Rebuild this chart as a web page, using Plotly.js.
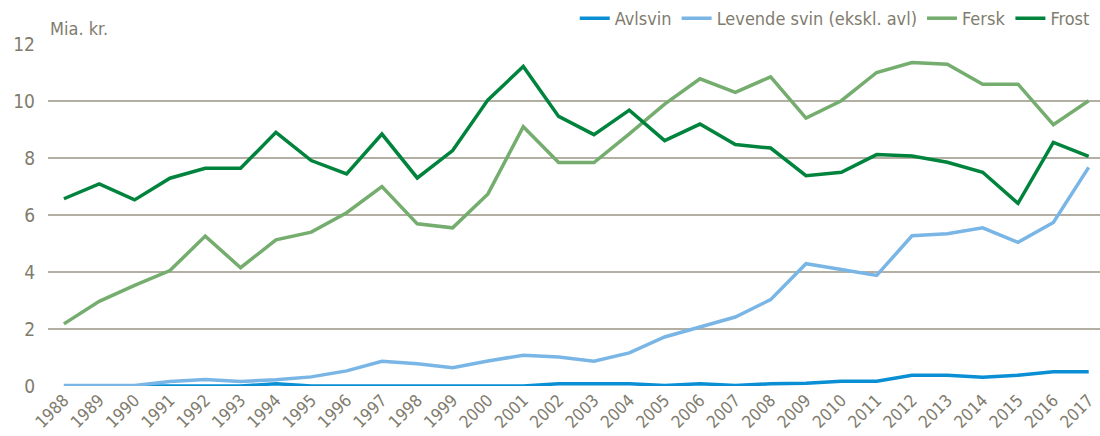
<!DOCTYPE html>
<html>
<head>
<meta charset="utf-8">
<script src="https://cdn.plot.ly/plotly-3.0.1.min.js"></script>
<style>html,body{margin:0;padding:0;background:#fff}#chart{width:1100px;height:436px}</style>
</head>
<body>
<div id="chart"></div>
<script>
const years = [1988,1989,1990,1991,1992,1993,1994,1995,1996,1997,1998,1999,2000,2001,2002,2003,2004,2005,2006,2007,2008,2009,2010,2011,2012,2013,2014,2015,2016,2017];
const avlsvin = [0,0,0,0,0,0,0.08,0,0,0,0,0,0,0,0.08,0.08,0.08,0.02,0.08,0.02,0.08,0.1,0.17,0.17,0.38,0.38,0.31,0.38,0.5,0.5];
const levendeSvin = [0.02,0.02,0.02,0.16,0.23,0.16,0.22,0.32,0.53,0.87,0.78,0.64,0.88,1.08,1.02,0.87,1.16,1.72,2.07,2.42,3.03,4.29,4.09,3.88,5.27,5.34,5.55,5.04,5.74,7.67];
const fersk = [2.18,2.97,3.53,4.05,5.26,4.15,5.13,5.40,6.08,7.0,5.69,5.55,6.74,9.10,7.84,7.84,8.85,9.89,10.78,10.30,10.85,9.40,10.01,11.00,11.35,11.29,10.59,10.59,9.17,10.01];
const frost = [6.57,7.09,6.53,7.29,7.64,7.64,8.90,7.91,7.44,8.84,7.30,8.26,10.04,11.21,9.46,8.82,9.68,8.61,9.19,8.47,8.35,7.38,7.50,8.12,8.07,7.85,7.50,6.41,8.55,8.06];
const seriesNames = ['Avlsvin','Levende svin (ekskl. avl)','Fersk','Frost'];
const yTicks = [0,2,4,6,8,10,12];

const font = '"Liberation Sans Narrow", "DejaVu Sans Condensed", "Arial Narrow", sans-serif';
const textColor = '#7f7c6e';
const colors = ['#0a8fd4','#79b6e6','#74ad6e','#00843d'];
const data = [avlsvin, levendeSvin, fersk, frost].map((v,i)=>({
  x: years, y: v, type:'scatter', mode:'lines', name: seriesNames[i],
  line:{color:colors[i], width:3.5}
}));

const layout = {
  width:1100, height:436,
  margin:{l:48, r:0, t:43, b:50},
  paper_bgcolor:'#fff', plot_bgcolor:'#fff',
  font:{family:font, color:textColor, size:18},
  showlegend:true,
  legend:{orientation:'h', x:0.995, xanchor:'right', y:1.13, yanchor:'top',
    font:{family:font, size:18, color:textColor}, traceorder:'normal', bgcolor:'rgba(0,0,0,0)'},
  xaxis:{range:[1987.55, 2017.32], tickvals:years, ticktext:years.map(String), tickangle:-45,
    ticklabeloverflow:'allow',
    showgrid:false, zeroline:false, showline:false, ticks:'', tickfont:{family:font, size:17, color:textColor}, fixedrange:true},
  yaxis:{range:[0,12], tickvals:yTicks, ticktext:yTicks.map(String), showgrid:true, gridcolor:'#b3afa2', gridwidth:2,
    zeroline:false, showline:false, ticks:'', ticklabelstandoff:12, tickfont:{family:font, size:19, color:textColor}},
  annotations:[{text:'Mia. kr.', xref:'paper', yref:'paper', x:0, y:1, xanchor:'left', yanchor:'bottom', yshift:3,
    showarrow:false, font:{family:font, size:18, color:textColor}}]
};
Plotly.newPlot('chart', data, layout, {displayModeBar:false, staticPlot:true});
</script>
</body>
</html>
